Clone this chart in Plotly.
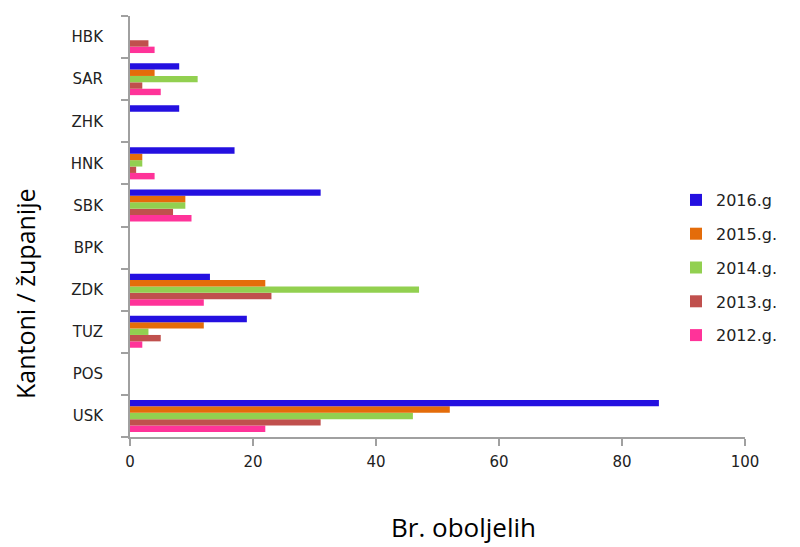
import plotly.graph_objects as go

# categories from bottom to top
cantons = ['USK', 'POS', 'TUZ', 'ZDK', 'BPK', 'SBK', 'HNK', 'ZHK', 'SAR', 'HBK']

y2016 = [86, 0, 19, 13, 0, 31, 17, 8, 8, 0]
y2015 = [52, 0, 12, 22, 0, 9, 2, 0, 4, 0]
y2014 = [46, 0, 3, 47, 0, 9, 2, 0, 11, 0]
y2013 = [31, 0, 5, 23, 0, 7, 1, 0, 2, 3]
y2012 = [22, 0, 2, 12, 0, 10, 4, 0, 5, 4]

# added bottom-first so 2016 sits on top of each group
series = [
    ('2012.g.', y2012, '#FF3399', 5),
    ('2013.g.', y2013, '#C0504D', 4),
    ('2014.g.', y2014, '#92D050', 3),
    ('2015.g.', y2015, '#E46C0A', 2),
    ('2016.g', y2016, '#2410E0', 1),
]

fig = go.Figure()
for name, vals, col, rank in series:
    fig.add_trace(go.Bar(
        y=cantons, x=vals, name=name, orientation='h',
        marker=dict(color=col, line=dict(width=0)),
        legendgroup=name, legendrank=rank,
    ))

# plot area in page pixels (page content is offset by the body margin)
off_x, off_y = 7, 6
left, top, w_plot, h_plot = 129 - off_x, 14 - off_y, 615, 421

fig.update_layout(
    width=800, height=547,
    barmode='group', bargap=0.24, bargroupgap=0,
    plot_bgcolor='white', paper_bgcolor='white',
    margin=dict(l=left, r=800 - left - w_plot, t=top, b=547 - top - h_plot),
    font=dict(family='DejaVu Sans', color='#222'),
    showlegend=True,
    legend=dict(
        x=(675 - 129) / w_plot, y=(435 - 181) / h_plot, xanchor='left', yanchor='top',
        traceorder='grouped', tracegroupgap=10,
        font=dict(size=16, family='DejaVu Sans', color='#222'),
        bgcolor='rgba(0,0,0,0)',
    ),
    xaxis=dict(
        range=[0, 100], tickvals=[0, 20, 40, 60, 80, 100],
        showgrid=False, zeroline=False, automargin=False,
        showline=True, linecolor='#a0a0a0', linewidth=2,
        ticks='outside', ticklen=7, tickcolor='#a0a0a0', tickwidth=2,
        tickfont=dict(size=15, family='DejaVu Sans'),
        ticklabelstandoff=3,
    ),
    yaxis=dict(
        categoryorder='array', categoryarray=cantons,
        showgrid=False, zeroline=False, automargin=False,
        showline=True, linecolor='#a0a0a0', linewidth=2,
        ticks='outside', ticklen=7, tickcolor='#a0a0a0', tickwidth=2,
        tickson='boundaries',
        tickfont=dict(size=15, family='DejaVu Sans'),
        ticklabelstandoff=22,
    ),
    annotations=[
        dict(text='Kantoni / županije', x=(24 - 129) / w_plot, y=(435 - 291) / h_plot,
             xref='paper', yref='paper', showarrow=False, textangle=-90,
             xanchor='center', yanchor='middle',
             font=dict(size=25, family='Open Sans', color='#000')),
        dict(text='Br. oboljelih', x=(462 - 129) / w_plot, y=(435 - 525) / h_plot,
             xref='paper', yref='paper', showarrow=False,
             xanchor='center', yanchor='middle',
             font=dict(size=26, family='Open Sans', color='#000')),
    ],
)

fig.write_html("out.html")
